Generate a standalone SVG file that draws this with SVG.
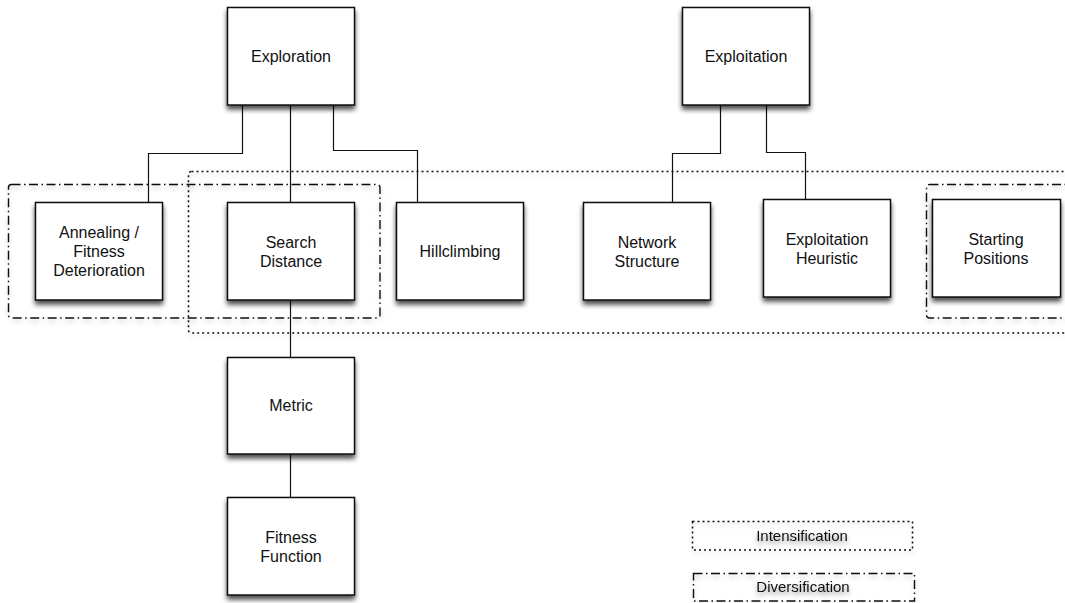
<svg xmlns="http://www.w3.org/2000/svg" width="1065" height="603" viewBox="0 0 1065 603">
<defs>
<filter id="shadow" x="-20%" y="-20%" width="140%" height="150%">
<feGaussianBlur in="SourceAlpha" stdDeviation="2.5"/>
<feOffset dx="0" dy="3.5" result="b"/>
<feComponentTransfer><feFuncA type="linear" slope="0.7"/></feComponentTransfer>
<feMerge><feMergeNode/><feMergeNode in="SourceGraphic"/></feMerge>
</filter>
<filter id="lshadow" x="-10%" y="-20%" width="120%" height="160%">
<feGaussianBlur in="SourceAlpha" stdDeviation="2.5"/>
<feOffset dx="0" dy="3" result="b"/>
<feComponentTransfer><feFuncA type="linear" slope="0.25"/></feComponentTransfer>
<feMerge><feMergeNode/><feMergeNode in="SourceGraphic"/></feMerge>
</filter>
<filter id="tshadow" x="-10%" y="-50%" width="120%" height="220%">
<feGaussianBlur in="SourceAlpha" stdDeviation="2.5"/>
<feOffset dx="0" dy="3" result="b"/>
<feComponentTransfer><feFuncA type="linear" slope="0.45"/></feComponentTransfer>
<feMerge><feMergeNode/><feMergeNode in="SourceGraphic"/></feMerge>
</filter>
</defs>
<style>
.box{fill:#fff;stroke:#111;stroke-width:1.5;filter:url(#shadow)}
.lbl{font-family:"Liberation Sans",Arial,Helvetica,sans-serif;font-size:16px;fill:#111;text-anchor:middle}
.conn{fill:none;stroke:#111;stroke-width:1.2}
.dot{fill:none;stroke:#111;stroke-width:1.5;stroke-dasharray:2,3;filter:url(#lshadow)}
.dd{fill:none;stroke:#111;stroke-width:1.4;stroke-dasharray:9,3.5,1.5,3.5;filter:url(#lshadow)}
.leg{font-family:"Liberation Sans",Arial,Helvetica,sans-serif;font-size:15px;fill:#111;text-anchor:middle;filter:url(#tshadow)}
</style>
<rect width="1065" height="603" fill="#fff"/>

<g id="groups">
<rect class="dot" x="188.5" y="171.5" width="890" height="161.5" rx="3"/>
<rect class="dd" x="8.5" y="184.5" width="371.5" height="133.5" rx="3"/>
<rect class="dd" x="926.5" y="184.5" width="150" height="133.5" rx="3"/>
</g>

<g id="connectors">
<path class="conn" d="M242.5,105 V153.5 H148.5 V202"/>
<path class="conn" d="M290.5,105 V202"/>
<path class="conn" d="M333.5,105 V150.5 H417.5 V202"/>
<path class="conn" d="M290.5,300 V357"/>
<path class="conn" d="M290.5,454 V497"/>
<path class="conn" d="M720.5,105 V153.5 H672.5 V202"/>
<path class="conn" d="M766.5,105 V152.5 H805.5 V199"/>
</g>

<g id="exploration">
<rect class="box" x="227.5" y="7.5" width="127" height="97.5"/>
<text class="lbl" x="291" y="62">Exploration</text>
</g>
<g id="exploitation">
<rect class="box" x="682.5" y="7.5" width="127" height="97.5"/>
<text class="lbl" x="746" y="62">Exploitation</text>
</g>
<g id="annealing">
<rect class="box" x="35.5" y="202.5" width="127" height="97.5"/>
<text class="lbl" x="99" y="238">Annealing /</text>
<text class="lbl" x="99" y="257">Fitness</text>
<text class="lbl" x="99" y="276">Deterioration</text>
</g>
<g id="search-distance">
<rect class="box" x="227.5" y="202.5" width="127" height="97.5"/>
<text class="lbl" x="291" y="248">Search</text>
<text class="lbl" x="291" y="267">Distance</text>
</g>
<g id="hillclimbing">
<rect class="box" x="396.5" y="202.5" width="127" height="97.5"/>
<text class="lbl" x="460" y="257">Hillclimbing</text>
</g>
<g id="network-structure">
<rect class="box" x="583.5" y="202.5" width="127" height="97.5"/>
<text class="lbl" x="647" y="248">Network</text>
<text class="lbl" x="647" y="267">Structure</text>
</g>
<g id="exploitation-heuristic">
<rect class="box" x="763.5" y="199.5" width="127" height="97.5"/>
<text class="lbl" x="827" y="245">Exploitation</text>
<text class="lbl" x="827" y="264">Heuristic</text>
</g>
<g id="starting-positions">
<rect class="box" x="932.5" y="199.5" width="128" height="97.5"/>
<text class="lbl" x="996" y="245">Starting</text>
<text class="lbl" x="996" y="264">Positions</text>
</g>
<g id="metric">
<rect class="box" x="227.5" y="357.5" width="127" height="96.5"/>
<text class="lbl" x="291" y="411">Metric</text>
</g>
<g id="fitness-function">
<rect class="box" x="227.5" y="497.5" width="127" height="97.5"/>
<text class="lbl" x="291" y="543">Fitness</text>
<text class="lbl" x="291" y="562">Function</text>
</g>

<g id="legend">
<rect class="dot" x="692.5" y="521.5" width="220" height="28.5"/>
<text class="leg" x="802" y="541">Intensification</text>
<rect class="dd" x="693.5" y="573.5" width="221" height="27.5"/>
<text class="leg" x="803" y="592">Diversification</text>
</g>
</svg>
